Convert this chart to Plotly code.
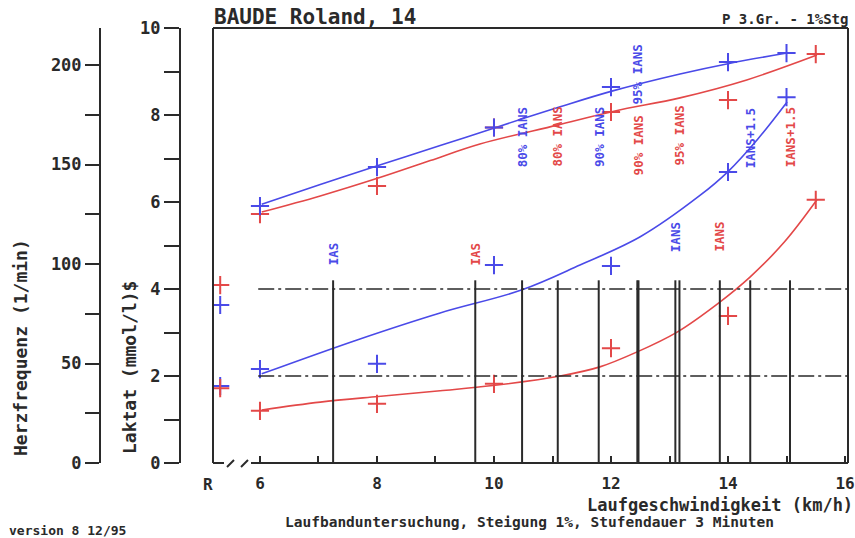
import plotly.graph_objects as go

# ---------------- data ----------------
speed_blue = [6, 8, 10, 12, 14, 15]
hr_blue = [129.1, 148.7, 168.6, 188.9, 201.5, 206.0]
lac_blue = [2.16, 2.28, 4.55, 4.53, 6.69, 8.41]

speed_red = [6, 8, 10, 12, 14, 15.5]
hr_red = [125.1, 139.2, 168.6, 176.4, 182.4, 205.5]
lac_red = [1.20, 1.36, 1.82, 2.64, 3.38, 6.05]

rest_pos = 5.32
rest_hr = {"blue": 79.4, "red": 89.4}
rest_lac = {"blue": 1.77, "red": 1.72}

# fitted curves
fit_hr_blue_x = [6.03, 7.03, 8.02, 9.08, 10.02, 11.13, 12.03, 13.18, 14.02, 15.01]
fit_hr_blue_y = [130.0, 140.0, 149.5, 159.5, 168.5, 179.0, 187.0, 195.5, 200.8, 206.0]
fit_hr_red_x = [6.03, 7.03, 8.02, 8.91, 9.76, 11.08, 12.07, 13.18, 14.32, 15.52]
fit_hr_red_y = [126.1, 134.2, 143.2, 152.0, 160.3, 169.8, 176.9, 183.5, 192.5, 205.0]
fit_lac_blue_x = [6.03, 7.66, 9.08, 10.48, 11.47, 12.50, 13.52, 14.0, 14.51, 15.01]
fit_lac_blue_y = [2.05, 2.83, 3.45, 3.98, 4.55, 5.20, 6.15, 6.70, 7.45, 8.30]
fit_lac_red_x = [6.03, 7.03, 8.02, 9.08, 9.98, 11.13, 11.81, 12.44, 13.13, 13.86, 14.38, 14.97, 15.52]
fit_lac_red_y = [1.22, 1.40, 1.53, 1.66, 1.78, 2.00, 2.21, 2.55, 3.01, 3.70, 4.28, 5.09, 6.05]

# thresholds (km/h)
thr_labels = ["IAS", "80% IANS", "90% IANS", "95% IANS", "IANS", "IANS+1.5"]
thr_blue = [7.25, 10.48, 11.79, 12.45, 13.10, 14.38]
thr_red = [9.68, 11.09, 12.47, 13.17, 13.86, 15.06]
lactate_levels = [2, 4]

x_ticks = [6, 8, 10, 12, 14, 16]
lac_ticks = [0, 2, 4, 6, 8, 10]
hr_ticks = [0, 50, 100, 150, 200]

title_text = "BAUDE Roland, 14"
subtitle_text = "P 3.Gr. - 1%Stg"
x_title = "Laufgeschwindigkeit (km/h)"
hr_title = "Herzfrequenz (1/min)"
lac_title = "Laktat (mmol/l)$"
foot_text = "Laufbanduntersuchung, Steigung 1%, Stufendauer 3 Minuten"
version_text = "version 8 12/95"

# ---------------- style ----------------
W, H = 855, 538
BLUE = "#4a4ae8"
RED = "#e34848"
INK = "#2a2a2a"
FONT = "DejaVu Sans Mono"

def px(x):
    return x / W

def py(y):
    return 1 - y / H

# label heights (lactate units) for threshold annotations
lab_y_blue = [4.80, 7.49, 7.49, 8.94, 5.20, 7.47]
lab_y_red = [4.80, 7.50, 7.29, 7.54, 5.20, 7.49]

fig = go.Figure()

def curve(x, y, color, yaxis):
    fig.add_trace(go.Scatter(x=x, y=y, mode="lines", yaxis=yaxis,
                             line=dict(color=color, width=1.6, shape="spline", smoothing=1.0),
                             hoverinfo="skip"))

def marks(x, y, color, yaxis):
    fig.add_trace(go.Scatter(x=x, y=y, mode="markers", yaxis=yaxis,
                             marker=dict(symbol="cross-thin", size=13,
                                         line=dict(width=2, color=color))))

curve(fit_hr_red_x, fit_hr_red_y, RED, "y2")
curve(fit_hr_blue_x, fit_hr_blue_y, BLUE, "y2")
curve(fit_lac_red_x, fit_lac_red_y, RED, "y")
curve(fit_lac_blue_x, fit_lac_blue_y, BLUE, "y")
marks(speed_red, hr_red, RED, "y2")
marks(speed_blue, hr_blue, BLUE, "y2")
marks(speed_red, lac_red, RED, "y")
marks(speed_blue, lac_blue, BLUE, "y")
marks([rest_pos], [rest_hr["red"]], RED, "y2")
marks([rest_pos], [rest_hr["blue"]], BLUE, "y2")
marks([rest_pos], [rest_lac["blue"]], BLUE, "y")
marks([rest_pos], [rest_lac["red"]], RED, "y")

shapes = []
# threshold vertical lines
for v in thr_blue + thr_red:
    shapes.append(dict(type="line", xref="x", yref="y", x0=v, x1=v, y0=0, y1=4.2,
                       line=dict(color=INK, width=2)))
# dash-dot lactate levels
for lv in lactate_levels:
    shapes.append(dict(type="line", xref="x", yref="y", x0=5.97, x1=16.05, y0=lv, y1=lv,
                       line=dict(color=INK, width=1.5, dash="16px,4px,3px,4px")))
# frame
frame = [(213, 28, 848, 28), (848, 28, 848, 463), (213, 28, 213, 463),
         (213, 463, 224, 463), (251, 463, 848, 463),
         (227, 467, 234, 460), (241, 467, 248, 460)]
for x0, y0, x1, y1 in frame:
    shapes.append(dict(type="line", xref="paper", yref="paper",
                       x0=px(x0), y0=py(y0), x1=px(x1), y1=py(y1),
                       line=dict(color=INK, width=2)))

ann = []
def note(text, x, y, size, xanchor="center", yanchor="middle", angle=0, color=INK,
         xref="paper", yref="paper"):
    ann.append(dict(text=text, x=x, y=y, xref=xref, yref=yref, showarrow=False,
                    xanchor=xanchor, yanchor=yanchor, textangle=angle, borderpad=0,
                    font=dict(family=FONT, size=size, color=color, weight="bold")))

for lab, v, ly in zip(thr_labels, thr_blue, lab_y_blue):
    note(lab, v, ly, 12.5, angle=-90, color=BLUE, xref="x", yref="y")
for lab, v, ly in zip(thr_labels, thr_red, lab_y_red):
    note(lab, v, ly, 12.5, angle=-90, color=RED, xref="x", yref="y")

note(title_text, px(213), py(17), 21, xanchor="left")
note(subtitle_text, px(849), py(19), 14, xanchor="right")
note(hr_title, px(20), py(348), 18, angle=-90)
note(lac_title, px(129), py(368), 18, angle=-90)
note(x_title, px(854), py(505), 17, xanchor="right")
note(foot_text, px(529), py(522), 14.5)
note(version_text, px(8), py(530), 13, xanchor="left")
note("R", px(208), py(484), 16)

tickfont = dict(family=FONT, size=17, color=INK, weight="bold")
xtickfont = dict(family=FONT, size=16, color=INK, weight="bold")
ydom = [py(463), py(28)]

fig.update_layout(
    template="none",
    width=W, height=H, margin=dict(l=0, r=0, t=0, b=0, pad=0), autosize=False,
    paper_bgcolor="white", plot_bgcolor="white", showlegend=False,
    xaxis=dict(domain=[px(213), px(848)], range=[5.197, 16.051], automargin=False,
               tickvals=x_ticks, ticks="inside", ticklen=7, tickwidth=1.5, tickcolor=INK,
               minor=dict(dtick=1, tick0=6, ticks="inside", ticklen=7, tickwidth=1.5, tickcolor=INK),
               showline=False, showgrid=False, zeroline=False,
               tickfont=xtickfont, ticklabelstandoff=9),
    yaxis=dict(domain=ydom, range=[0, 10], anchor="free", position=px(180), automargin=False,
               tickvals=lac_ticks, ticks="outside", ticklen=15, tickwidth=2, tickcolor=INK,
               minor=dict(dtick=1, ticks="outside", ticklen=15, tickwidth=2, tickcolor=INK),
               showline=True, linewidth=2, linecolor=INK,
               showgrid=False, zeroline=False, tickfont=tickfont),
    yaxis2=dict(overlaying="y", range=[0, 218.6], anchor="free", position=px(100), side="left",
                automargin=False,
                tickvals=hr_ticks, ticks="outside", ticklen=14, tickwidth=2, tickcolor=INK,
                minor=dict(dtick=25, ticks="outside", ticklen=14, tickwidth=2, tickcolor=INK),
                showline=True, linewidth=2, linecolor=INK,
                showgrid=False, zeroline=False, tickfont=tickfont),
    shapes=shapes, annotations=ann,
)

fig.write_html("out.html")
